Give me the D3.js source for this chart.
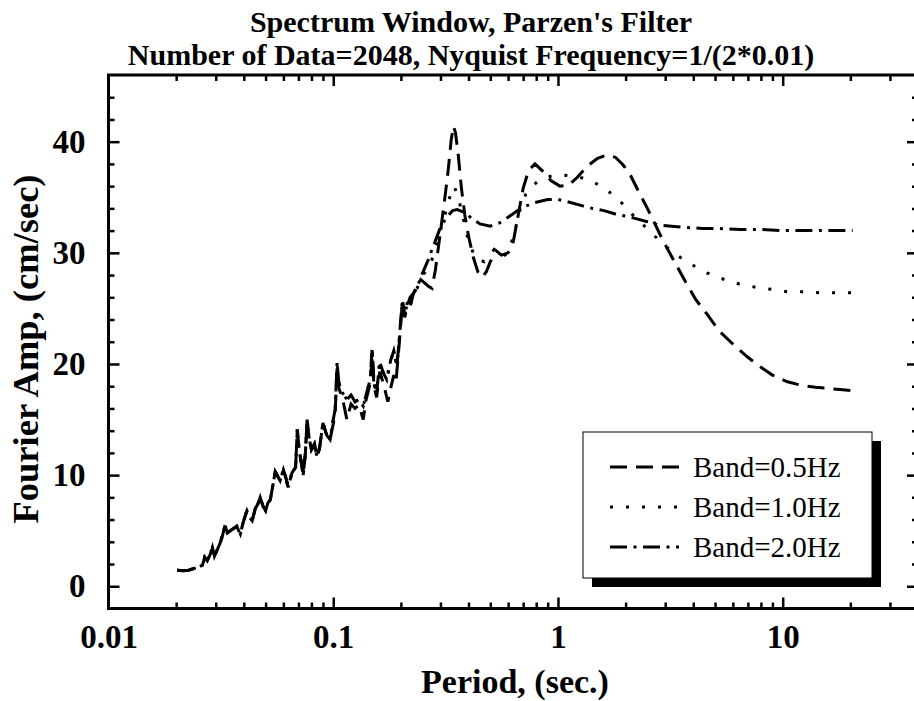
<!DOCTYPE html>
<html>
<head>
<meta charset="utf-8">
<script src="https://cdn.jsdelivr.net/npm/d3@7"></script>
<style>
  body { margin: 0; background: #fff; }
  svg { display: block; font-family: "Liberation Serif", "Times New Roman", serif; }
</style>
</head>
<body>
<div id="root"></div>
<script>
const WIDTH = 914;
const HEIGHT = 701;
const MARGIN = {top: 75, right: 918, bottom: 608.5, left: 108.5};

const titleLines = ["Spectrum Window, Parzen's Filter", "Number of Data=2048, Nyquist Frequency=1/(2*0.01)"];
const xLabel = "Period, (sec.)";
const yLabel = "Fourier Amp, (cm/sec)";

const xMajor = [0.1, 1, 10];
const xLabels = [0.01, 0.1, 1, 10];
const xMinor = [0.02, 0.03, 0.04, 0.05, 0.06, 0.07, 0.08, 0.09,
  0.2, 0.3, 0.4, 0.5, 0.6, 0.7, 0.8, 0.9,
  2, 3, 4, 5, 6, 7, 8, 9, 20, 30];
const yMajor = [0, 10, 20, 30, 40];
const yMinor = [2, 4, 6, 8, 12, 14, 16, 18, 22, 24, 26, 28, 32, 34, 36, 38, 42, 44];

// [period, amplitude] -- the three filters are almost the same at short periods
const sharedShort = [
  [0.0202, 1.45], [0.0215, 1.4], [0.0227, 1.45], [0.024, 1.6], [0.0252, 1.75], [0.0262, 1.9],
  [0.0268, 2.6], [0.0275, 2.3], [0.0284, 2.9], [0.029, 3.5], [0.0296, 2.7], [0.0305, 3.3],
  [0.0314, 3.9], [0.0322, 4.6], [0.033, 5.5], [0.0338, 4.8], [0.0348, 5.0], [0.036, 5.2],
  [0.0372, 5.4], [0.0386, 4.7], [0.0398, 5.8], [0.0413, 6.8], [0.0425, 6.2], [0.0436, 5.9],
  [0.045, 7.0], [0.0462, 7.4], [0.0473, 8.0], [0.0487, 7.2], [0.05, 6.8], [0.0512, 7.5],
  [0.0525, 7.8], [0.054, 9.2], [0.0552, 10.3], [0.058, 9.5], [0.06, 10.5], [0.0615, 9.8],
  [0.063, 8.9], [0.0655, 10.2], [0.068, 10.7], [0.0692, 14.1], [0.0705, 12.3], [0.072, 11.2],
  [0.0735, 10.0], [0.0752, 12.0], [0.0765, 15.0], [0.078, 13.4], [0.08, 12.3], [0.0825, 12.8],
  [0.0847, 11.6], [0.087, 12.5], [0.09, 14.7], [0.0935, 13.6], [0.0968, 13.2]
];

const band05 = [
  [0.1, 14.6], [0.102, 15.6], [0.104, 19.6], [0.106, 17.8], [0.11, 16.9], [0.115, 15.0],
  [0.12, 16.4], [0.125, 16.0], [0.13, 16.3], [0.136, 15.0], [0.14, 16.8], [0.146, 18.2],
  [0.149, 20.6], [0.152, 17.9], [0.156, 17.0], [0.161, 19.3], [0.167, 18.3], [0.175, 16.6],
  [0.18, 17.8], [0.186, 19.0], [0.19, 18.3], [0.197, 22.0], [0.203, 25.5], [0.208, 24.2],
  [0.214, 25.3], [0.22, 26.0], [0.228, 26.4], [0.236, 27.0], [0.245, 27.6], [0.255, 27.3],
  [0.265, 27.0], [0.275, 26.8], [0.285, 28.5], [0.295, 30.8], [0.305, 33.0], [0.315, 35.2],
  [0.325, 37.5], [0.335, 40.2], [0.343, 41.4], [0.35, 40.8], [0.36, 38.8], [0.372, 35.8],
  [0.385, 33.4], [0.4, 31.5], [0.42, 29.6], [0.44, 28.3], [0.46, 27.8], [0.48, 28.3],
  [0.5, 29.2], [0.53, 30.2], [0.56, 29.8], [0.6, 30.0], [0.63, 30.8], [0.66, 33.0],
  [0.7, 35.8], [0.74, 37.4], [0.79, 38.0], [0.85, 37.4], [0.93, 36.5], [1.02, 36.0],
  [1.12, 36.1], [1.22, 36.8], [1.35, 37.8], [1.5, 38.5], [1.65, 38.8], [1.8, 38.6],
  [1.95, 37.9], [2.1, 37.0], [2.3, 35.4], [2.5, 34.0], [2.7, 32.6], [2.95, 31.0],
  [3.2, 29.7], [3.6, 27.8], [4.1, 25.8], [4.6, 24.5], [5.2, 23.0], [6.0, 21.8],
  [7.0, 20.6], [8.0, 19.7], [9.0, 19.0], [10.5, 18.4], [12, 18.1], [14, 17.9],
  [16, 17.8], [18, 17.7], [20.48, 17.6]
];

const band10 = [
  [0.1, 15.0], [0.102, 15.9], [0.104, 20.1], [0.106, 18.3], [0.11, 17.4], [0.115, 16.8],
  [0.12, 17.2], [0.125, 16.6], [0.13, 16.8], [0.136, 16.2], [0.14, 17.2], [0.146, 18.6],
  [0.149, 21.5], [0.152, 18.2], [0.156, 17.4], [0.161, 20.2], [0.167, 19.2], [0.173, 18.6],
  [0.18, 20.3], [0.186, 21.2], [0.192, 19.8], [0.197, 22.4], [0.203, 25.8], [0.208, 24.4],
  [0.214, 25.6], [0.22, 25.2], [0.228, 26.4], [0.236, 26.8], [0.245, 27.6], [0.255, 28.2],
  [0.265, 28.6], [0.275, 29.4], [0.29, 31.0], [0.31, 33.0], [0.33, 35.0], [0.345, 36.0],
  [0.36, 35.0], [0.38, 33.0], [0.4, 31.0], [0.43, 29.5], [0.47, 29.2], [0.52, 30.3],
  [0.56, 29.6], [0.6, 30.0], [0.64, 31.8], [0.68, 34.0], [0.72, 35.3], [0.76, 35.9],
  [0.82, 36.5], [0.89, 36.8], [0.97, 37.0], [1.05, 37.0], [1.15, 36.9], [1.25, 36.8],
  [1.35, 36.6], [1.46, 36.3], [1.6, 35.8], [1.74, 35.3], [1.9, 34.6], [2.03, 34.0],
  [2.2, 33.2], [2.4, 32.5], [2.6, 31.8], [2.8, 31.2], [3.05, 30.5], [3.3, 30.0],
  [3.6, 29.4], [3.9, 29.0], [4.3, 28.5], [4.6, 28.2], [5.0, 27.9], [5.5, 27.6],
  [6.4, 27.2], [7.6, 26.9], [9.0, 26.7], [10.5, 26.5], [12.5, 26.5], [15, 26.4],
  [20.48, 26.4]
];

const band20 = [
  [0.1, 15.0], [0.102, 15.9], [0.104, 20.1], [0.106, 18.3], [0.11, 17.4], [0.115, 16.8],
  [0.12, 17.2], [0.125, 16.6], [0.13, 16.8], [0.136, 16.2], [0.14, 17.2], [0.146, 18.6],
  [0.149, 21.5], [0.152, 18.2], [0.156, 17.4], [0.161, 20.2], [0.167, 19.2], [0.173, 18.6],
  [0.18, 20.3], [0.186, 21.2], [0.192, 19.8], [0.197, 22.4], [0.203, 25.8], [0.208, 24.4],
  [0.214, 25.6], [0.22, 25.2], [0.228, 26.4], [0.236, 26.8], [0.245, 27.8], [0.255, 28.6],
  [0.265, 29.4], [0.275, 30.3], [0.29, 31.5], [0.3, 32.3], [0.32, 33.2], [0.34, 33.8],
  [0.356, 33.9], [0.375, 33.7], [0.39, 33.5], [0.42, 33.0], [0.45, 32.6], [0.5, 32.4],
  [0.55, 32.7], [0.6, 33.2], [0.65, 33.7], [0.7, 34.1], [0.78, 34.5], [0.9, 34.8],
  [1.0, 34.8], [1.1, 34.6], [1.3, 34.2], [1.42, 34.0], [1.6, 33.8], [1.8, 33.5],
  [2.0, 33.3], [2.2, 33.1], [2.5, 32.8], [2.8, 32.5], [3.2, 32.4], [3.6, 32.3],
  [4.4, 32.2], [5.1, 32.2], [6.5, 32.1], [8, 32.1], [10, 32.0], [15, 32.0], [20.48, 32.0]
];

const seriesNames = ["Band=0.5Hz", "Band=1.0Hz", "Band=2.0Hz"];
const seriesDash = ["17,9", "3,13", "17,6.5,3,6.5"];
const series = [band05, band10, band20].map((d, i) => ({
  name: seriesNames[i],
  dash: seriesDash[i],
  values: sharedShort.concat(d)
}));

const xScale = d3.scaleLog()
    .domain([0.01, 40])
    .range([MARGIN.left, MARGIN.right]);

const yScale = d3.scaleLinear()
    .domain([-2, 46])
    .range([MARGIN.bottom, MARGIN.top]);

const svg = d3.select("#root")
    .append("svg")
    .attr("width", WIDTH)
    .attr("height", HEIGHT);

// title
svg.append("g")
    .selectAll("text")
    .data(titleLines)
    .join("text")
    .attr("x", 471)
    .attr("y", (d, i) => 32 + i * 33)
    .attr("text-anchor", "middle")
    .attr("font-weight", "bold")
    .attr("font-size", 30)
    .text(d => d);

const plotH = MARGIN.bottom - MARGIN.top;
const plotW = MARGIN.right - MARGIN.left;

function styleAxis(g) {
    g.select(".domain").remove();
    g.selectAll(".tick line").attr("stroke", "#000").attr("stroke-width", 2.5);
    g.selectAll(".tick text")
        .attr("font-family", "Liberation Serif, serif")
        .attr("font-weight", "bold")
        .attr("font-size", 33)
        .attr("fill", "#000");
}

// bottom
svg.append("g")
    .attr("transform", `translate(0, ${MARGIN.bottom})`)
    .call(d3.axisBottom(xScale).tickValues(xMinor).tickSize(-6).tickFormat(""))
    .call(styleAxis);
svg.append("g")
    .attr("transform", `translate(0, ${MARGIN.bottom})`)
    .call(d3.axisBottom(xScale).tickValues(xMajor).tickSize(-11).tickFormat(""))
    .call(styleAxis);
svg.append("g")
    .attr("transform", `translate(0, ${MARGIN.bottom})`)
    .call(d3.axisBottom(xScale).tickValues(xLabels).tickSize(0).tickPadding(16).tickFormat(d3.format("")))
    .call(styleAxis)
    .call(g => g.selectAll(".tick line").remove());

// top
svg.append("g")
    .attr("transform", `translate(0, ${MARGIN.top})`)
    .call(d3.axisTop(xScale).tickValues(xMinor).tickSize(-6).tickFormat(""))
    .call(styleAxis);
svg.append("g")
    .attr("transform", `translate(0, ${MARGIN.top})`)
    .call(d3.axisTop(xScale).tickValues(xMajor).tickSize(-11).tickFormat(""))
    .call(styleAxis);

// left
svg.append("g")
    .attr("transform", `translate(${MARGIN.left}, 0)`)
    .call(d3.axisLeft(yScale).tickValues(yMinor).tickSize(-6).tickFormat(""))
    .call(styleAxis);
svg.append("g")
    .attr("transform", `translate(${MARGIN.left}, 0)`)
    .call(d3.axisLeft(yScale).tickValues(yMajor).tickSize(-11).tickPadding(23))
    .call(styleAxis);

// right
svg.append("g")
    .attr("transform", `translate(${MARGIN.right}, 0)`)
    .call(d3.axisRight(yScale).tickValues(yMinor).tickSize(-6).tickFormat(""))
    .call(styleAxis);
svg.append("g")
    .attr("transform", `translate(${MARGIN.right}, 0)`)
    .call(d3.axisRight(yScale).tickValues(yMajor).tickSize(-11).tickFormat(""))
    .call(styleAxis);

// frame
svg.append("rect")
    .attr("x", MARGIN.left)
    .attr("y", MARGIN.top)
    .attr("width", plotW)
    .attr("height", plotH)
    .attr("fill", "none")
    .attr("stroke", "#000")
    .attr("stroke-width", 3);

// axis titles
svg.append("text")
    .attr("x", 515)
    .attr("y", 693)
    .attr("text-anchor", "middle")
    .attr("font-weight", "bold")
    .attr("font-size", 34)
    .text(xLabel);

svg.append("text")
    .attr("transform", "translate(38, 349) rotate(-90)")
    .attr("text-anchor", "middle")
    .attr("font-weight", "bold")
    .attr("font-size", 36.5)
    .text(yLabel);

// curves
const line = d3.line()
    .x(d => xScale(d[0]))
    .y(d => yScale(d[1]));

svg.append("g")
    .selectAll("path")
    .data(series)
    .join("path")
    .attr("d", d => line(d.values))
    .attr("fill", "none")
    .attr("stroke", "#000")
    .attr("stroke-width", 3)
    .attr("stroke-dasharray", d => d.dash);

// legend
const legend = svg.append("g");
legend.append("rect")
    .attr("x", 592).attr("y", 441)
    .attr("width", 289).attr("height", 146)
    .attr("fill", "#000");
legend.append("rect")
    .attr("x", 583).attr("y", 432)
    .attr("width", 289).attr("height", 146)
    .attr("fill", "#fff")
    .attr("stroke", "#000")
    .attr("stroke-width", 1);

const items = legend.selectAll(".item")
    .data(series)
    .join("g")
    .attr("class", "item")
    .attr("transform", (d, i) => `translate(0, ${467 + i * 40})`);

items.append("line")
    .attr("x1", 610).attr("x2", 679)
    .attr("stroke", "#000")
    .attr("stroke-width", 2.8)
    .attr("stroke-dasharray", d => d.dash);

items.append("text")
    .attr("x", 693)
    .attr("y", 10)
    .attr("font-size", 29)
    .text(d => d.name);
</script>
</body>
</html>
